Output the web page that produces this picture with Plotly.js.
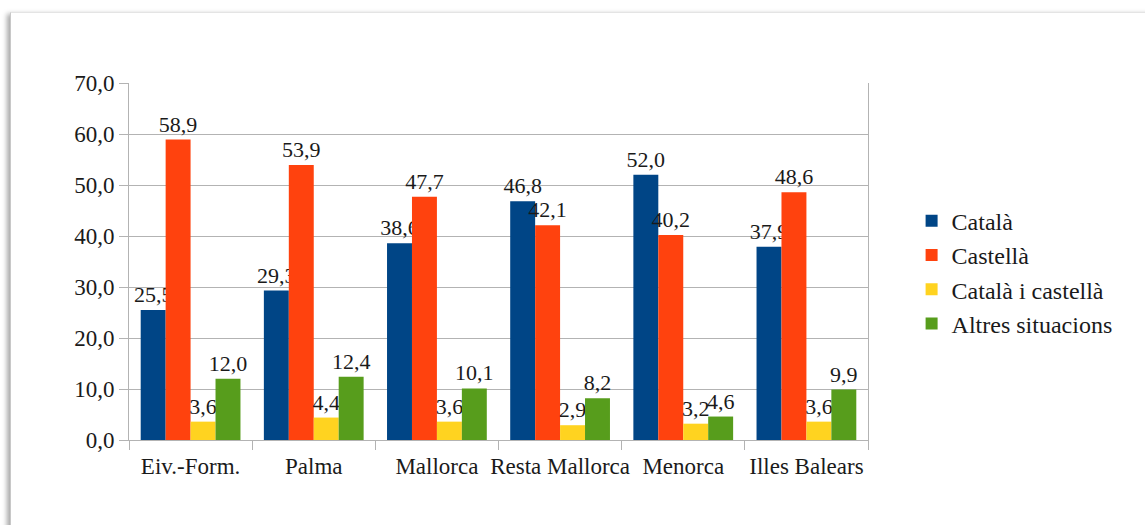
<!DOCTYPE html>
<html>
<head>
<meta charset="utf-8">
<script src="https://cdn.plot.ly/plotly-3.0.1.min.js"></script>
<style>
  html, body { margin: 0; padding: 0; background: #ffffff; }
  #frame { position: absolute; left: 10px; top: 12px; width: 1160px; height: 540px;
           border-left: 1px solid #c8c8c8; border-top: 1px solid #e4e4e4;
           box-shadow: -3px 2px 5px rgba(0,0,0,0.35); background: #fff; }
  #chart { position: absolute; left: 0; top: 0; width: 1145px; height: 525px; }
</style>
</head>
<body>
<div id="frame"></div>
<div id="chart"></div>
<script>
const categories = ["Eiv.-Form.", "Palma", "Mallorca", "Resta Mallorca", "Menorca", "Illes Balears"];
const seriesNames = ["Català", "Castellà", "Català i castellà", "Altres situacions"];
const catala = [25.5, 29.3, 38.6, 46.8, 52.0, 37.9];
const castella = [58.9, 53.9, 47.7, 42.1, 40.2, 48.6];
const catalaCastella = [3.6, 4.4, 3.6, 2.9, 3.2, 3.6];
const altres = [12.0, 12.4, 10.1, 8.2, 4.6, 9.9];
const yTicks = [0, 10, 20, 30, 40, 50, 60, 70];

const colors = ["#004586", "#ff420e", "#ffd320", "#579d1c"];
const values = [catala, castella, catalaCastella, altres];
const FONT = "Liberation Serif";
const TXT = "#1a1a1a";

const traces = values.map((v, i) => ({
  type: "bar",
  name: seriesNames[i],
  x: categories,
  y: v,
  marker: { color: colors[i], line: { width: 0 } },
  texttemplate: "%{y:.1f}",
  textposition: "outside",
  constraintext: "none",
  cliponaxis: false,
  textfont: { family: FONT, size: 22, color: TXT },
  hoverinfo: "skip"
}));

const layout = {
  width: 1145, height: 525,
  margin: { l: 129, r: 277, t: 83, b: 85 },
  paper_bgcolor: "rgba(0,0,0,0)",
  plot_bgcolor: "rgba(0,0,0,0)",
  separators: ", ",
  barmode: "group",
  bargap: 0.19,
  bargroupgap: 0,
  showlegend: true,
  font: { family: FONT, size: 22, color: TXT },
  xaxis: {
    type: "category",
    tickson: "boundaries",
    tickangle: 0,
    ticks: "outside", ticklen: 9, tickcolor: "#b3b3b3", tickwidth: 1,
    ticklabelstandoff: 5,
    showline: true, linecolor: "#b3b3b3", linewidth: 1,
    showgrid: false,
    tickfont: { family: FONT, size: 23, color: TXT },
    fixedrange: true
  },
  yaxis: {
    range: [0, 70],
    tickvals: yTicks,
    tickformat: ".1f",
    ticks: "outside", ticklen: 9, tickcolor: "#b3b3b3",
    showline: true, mirror: true, linecolor: "#b3b3b3", linewidth: 1,
    showgrid: true, gridcolor: "#b3b3b3", gridwidth: 1,
    zeroline: false,
    tickfont: { family: FONT, size: 23, color: TXT },
    fixedrange: true
  },
  legend: {
    x: 1.059, xanchor: "left", xref: "paper",
    y: 0.47, yanchor: "middle",
    font: { family: FONT, size: 24, color: TXT },
    itemwidth: 30,
    bgcolor: "rgba(0,0,0,0)"
  }
};

Plotly.newPlot("chart", traces, layout, { displayModeBar: false, staticPlot: true });
</script>
</body>
</html>
